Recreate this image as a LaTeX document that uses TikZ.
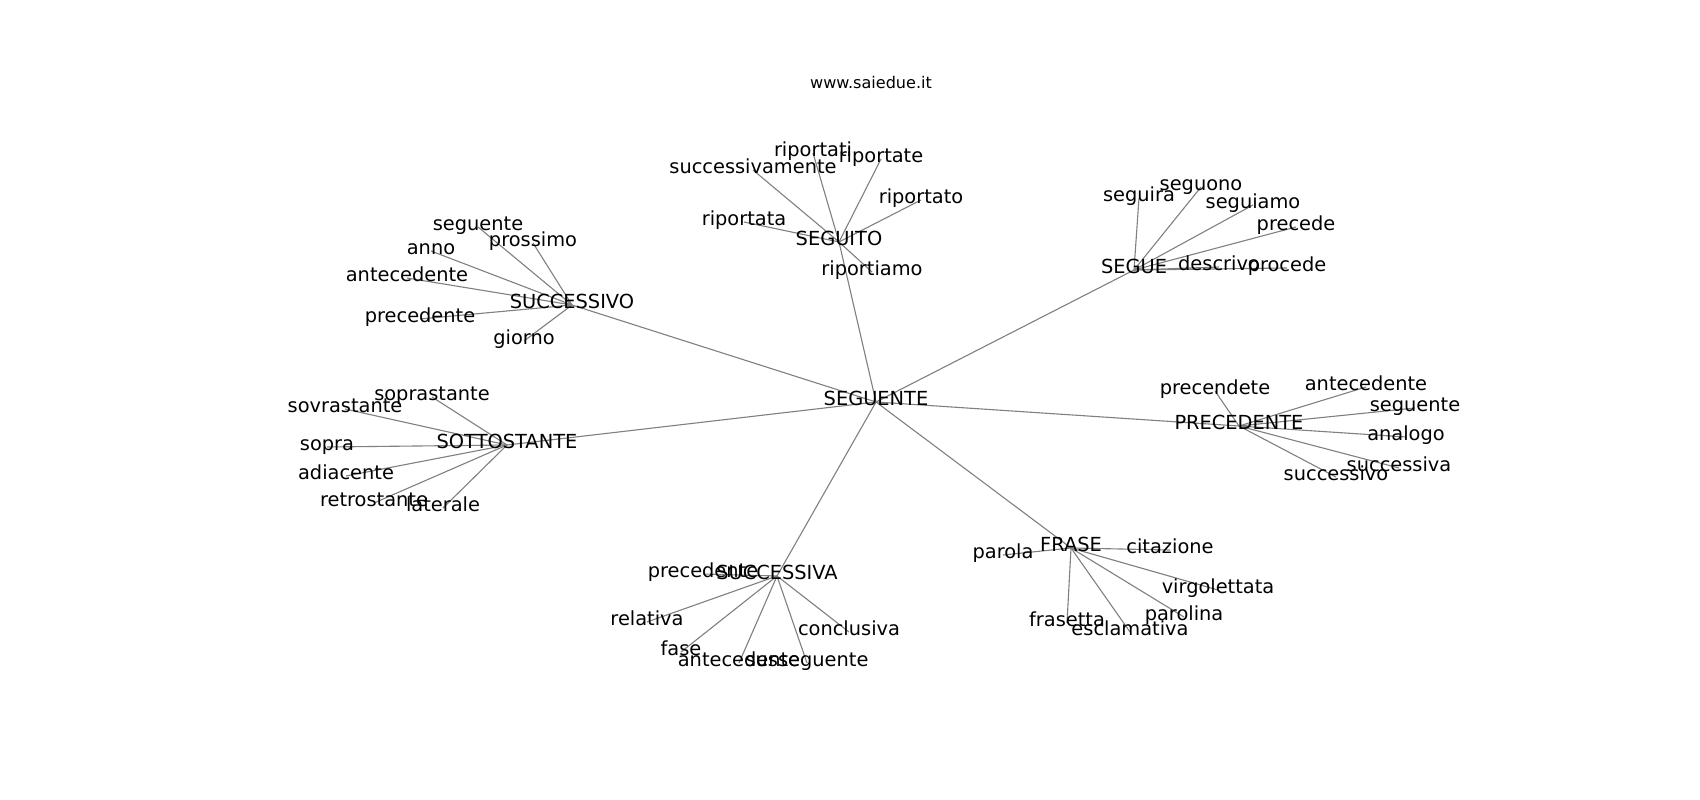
\documentclass[tikz,border=0pt]{standalone}
\usepackage{fontspec}
\setmainfont{DejaVu Sans}
\usetikzlibrary{backgrounds}
\begin{document}
\begin{tikzpicture}[x=0.01in,y=-0.01in,
	word/.style={inner sep=0pt,text height=.76em,text depth=.24em,font=\fontsize{14}{16}\selectfont},
	edge/.style={draw=black!50,line width=0.8pt}]
		\useasboundingbox (0,0) rectangle (1700,800);
		\begin{scope}[shift={(1,2)}]
		\node[font=\fontsize{11.6}{14}\selectfont] (title) at (870,81) {www.saiedue.it};
		\node[word] (seguente) at (875,400) {SEGUENTE};
		\foreach \h/\x/\y/\t in {seguito/838/240/SEGUITO,segue/1133/268/SEGUE,successivo/571/303/SUCCESSIVO,sottostante/506/443/SOTTOSTANTE,precedente/1238/424/PRECEDENTE,successiva/776/574/SUCCESSIVA,frase/1070/546/FRASE}
		{
		\node[word] (\h) at (\x,\y) {\t};
		\begin{scope}[on background layer]
		\draw[edge] (seguente.center) -- (\h.center);
		\end{scope}
		}
		% foglie di SEGUITO
		\foreach \n/\x/\y/\t in {a1/812/151/riportati,a2/880/157/riportate,a3/752/168/successivamente,a4/920/198/riportato,a5/743/220/riportata,a6/871/270/riportiamo}
		{
		\node[word] (\n) at (\x,\y) {\t};
		\begin{scope}[on background layer]
		\draw[edge] (seguito.center) -- (\n.center);
		\end{scope}
		}
		% foglie di SEGUE
		\foreach \n/\x/\y/\t in {b1/1138/196/seguira,b2/1200/185/seguono,b3/1252/203/seguiamo,b4/1295/225/precede,b5/1218/265/descrivo,b6/1286/266/procede}
		{
		\node[word] (\n) at (\x,\y) {\t};
		\begin{scope}[on background layer]
		\draw[edge] (segue.center) -- (\n.center);
		\end{scope}
		}
		% foglie di SUCCESSIVO
		\foreach \n/\x/\y/\t in {c1/477/225/seguente,c2/532/241/prossimo,c3/430/249/anno,c4/406/276/antecedente,c5/419/317/precedente,c6/523/339/giorno}
		{
		\node[word] (\n) at (\x,\y) {\t};
		\begin{scope}[on background layer]
		\draw[edge] (successivo.center) -- (\n.center);
		\end{scope}
		}
		% foglie di SOTTOSTANTE
		\foreach \n/\x/\y/\t in {d1/431/395/soprastante,d2/344/407/sovrastante,d3/326/445/sopra,d4/345/474/adiacente,d5/373/501/retrostante,d6/442/506/laterale}
		{
		\node[word] (\n) at (\x,\y) {\t};
		\begin{scope}[on background layer]
		\draw[edge] (sottostante.center) -- (\n.center);
		\end{scope}
		}
		% foglie di PRECEDENTE
		\foreach \n/\x/\y/\t in {e1/1214/389/precendete,e2/1365/385/antecedente,e3/1414/406/seguente,e4/1405/435/analogo,e5/1398/466/successiva,e6/1335/475/successivo}
		{
		\node[word] (\n) at (\x,\y) {\t};
		\begin{scope}[on background layer]
		\draw[edge] (precedente.center) -- (\n.center);
		\end{scope}
		}
		% foglie di SUCCESSIVA
		\foreach \n/\x/\y/\t in {f1/702/572/precedente,f2/646/620/relativa,f3/680/650/fase,f4/738/661/antecedente,f5/806/661/susseguente,f6/848/630/conclusiva}
		{
		\node[word] (\n) at (\x,\y) {\t};
		\begin{scope}[on background layer]
		\draw[edge] (successiva.center) -- (\n.center);
		\end{scope}
		}
		% foglie di FRASE
		\foreach \n/\x/\y/\t in {g1/1002/553/parola,g2/1169/548/citazione,g3/1217/588/virgolettata,g4/1183/615/parolina,g5/1066/621/frasetta,g6/1129/630/esclamativa}
		{
		\node[word] (\n) at (\x,\y) {\t};
		\begin{scope}[on background layer]
		\draw[edge] (frase.center) -- (\n.center);
		\end{scope}
		}
		\end{scope}
\end{tikzpicture}
\end{document}
